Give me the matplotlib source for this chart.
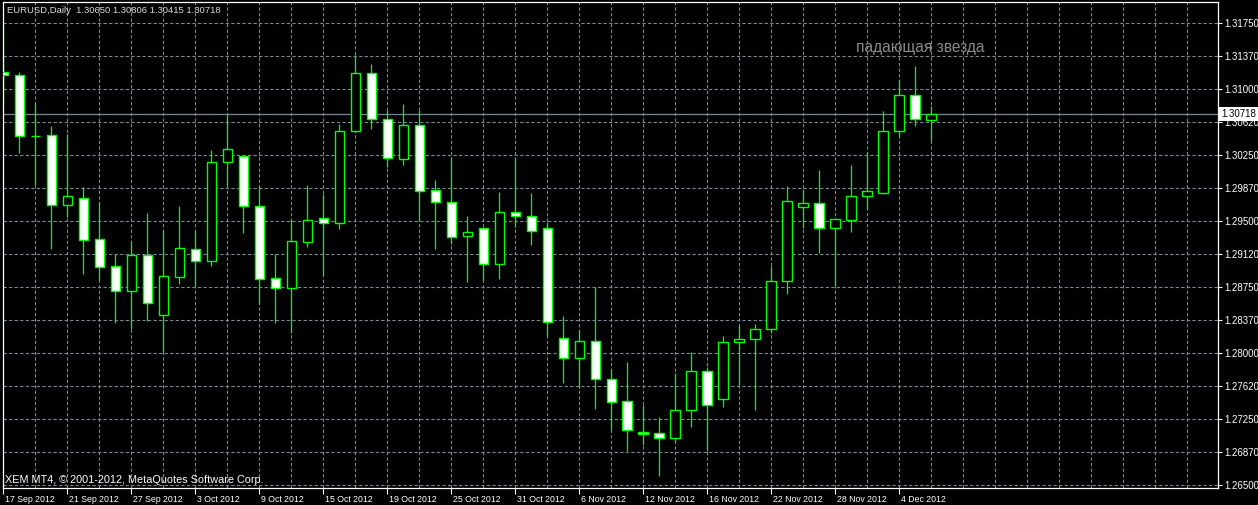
import matplotlib
matplotlib.use("Agg")
import numpy as np
import matplotlib.pyplot as plt
import matplotlib.transforms as mtransforms

plt.rcParams['font.family'] = ['Liberation Sans', 'DejaVu Sans']

# EURUSD daily bars, 17 Sep 2012 .. 6 Dec 2012
opens = [1.31196, 1.31159, 1.30472, 1.30476, 1.29680, 1.29760, 1.29294, 1.28987, 1.28703, 1.29112,
         1.28430, 1.28869, 1.29180, 1.29044, 1.30169, 1.30241, 1.29669, 1.28850, 1.28737, 1.29260,
         1.29533, 1.29476, 1.30522, 1.31181, 1.30658, 1.30204, 1.30590, 1.29851, 1.29715, 1.29328,
         1.29419, 1.29016, 1.29601, 1.29555, 1.29419, 1.28168, 1.27941, 1.28134, 1.27702, 1.27452,
         1.27099, 1.27088, 1.27031, 1.27349, 1.27793, 1.27475, 1.28123, 1.28157, 1.28270, 1.28816,
         1.29658, 1.29703, 1.29419, 1.29517, 1.29783, 1.29817, 1.30522, 1.30931, 1.30650]
highs = [1.31719, 1.31196, 1.30840, 1.30582, 1.30488, 1.29885, 1.29715, 1.29123, 1.29275, 1.29593,
         1.29396, 1.29673, 1.29385, 1.30309, 1.30707, 1.30253, 1.29900, 1.29123, 1.29525, 1.29911,
         1.29809, 1.30605, 1.31386, 1.31287, 1.30764, 1.30832, 1.30764, 1.29968, 1.30233, 1.29559,
         1.29422, 1.29828, 1.30215, 1.29817, 1.29494, 1.28422, 1.28263, 1.28748, 1.27816, 1.27895,
         1.27413, 1.27273, 1.27770, 1.28012, 1.27842, 1.28194, 1.28305, 1.28331, 1.28987, 1.29900,
         1.29862, 1.30082, 1.29536, 1.30139, 1.30283, 1.30753, 1.31102, 1.31264, 1.30806]
lows = [1.30821, 1.30279, 1.29911, 1.29184, 1.29551, 1.28903, 1.28831, 1.28346, 1.28277, 1.28368,
        1.28009, 1.28789, 1.28759, 1.28994, 1.29911, 1.29369, 1.28555, 1.28346, 1.28225, 1.29210,
        1.28891, 1.29414, 1.30518, 1.30552, 1.30119, 1.30142, 1.29502, 1.29187, 1.29240, 1.28812,
        1.28828, 1.28846, 1.29437, 1.29232, 1.28198, 1.27663, 1.27606, 1.27361, 1.27120, 1.26887,
        1.26955, 1.26606, 1.26986, 1.27163, 1.26887, 1.27390, 1.27641, 1.27356, 1.28225, 1.28675,
        1.29426, 1.29142, 1.28766, 1.29380, 1.29642, 1.29810, 1.30454, 1.30586, 1.30415]
closes = [1.31162, 1.30465, 1.30472, 1.29680, 1.29783, 1.29289, 1.28982, 1.28703, 1.29112, 1.28566,
          1.28873, 1.29192, 1.29044, 1.30169, 1.30317, 1.29669, 1.28839, 1.28737, 1.29271, 1.29510,
          1.29476, 1.30522, 1.31181, 1.30658, 1.30215, 1.30590, 1.29840, 1.29715, 1.29323, 1.29374,
          1.29016, 1.29601, 1.29555, 1.29383, 1.28350, 1.27941, 1.28134, 1.27702, 1.27449, 1.27122,
          1.27077, 1.27031, 1.27349, 1.27793, 1.27406, 1.28123, 1.28157, 1.28270, 1.28816, 1.29726,
          1.29703, 1.29419, 1.29521, 1.29783, 1.29840, 1.30522, 1.30931, 1.30658, 1.30718]

date_labels = ["17 Sep 2012", "21 Sep 2012", "27 Sep 2012", "3 Oct 2012", "9 Oct 2012",
               "15 Oct 2012", "19 Oct 2012", "25 Oct 2012", "31 Oct 2012", "6 Nov 2012",
               "12 Nov 2012", "16 Nov 2012", "22 Nov 2012", "28 Nov 2012", "4 Dec 2012"]
price_grid = [1.26500, 1.26875, 1.27250, 1.27625, 1.28000, 1.28375, 1.28750, 1.29125,
              1.29500, 1.29875, 1.30250, 1.30625, 1.31000, 1.31375, 1.31750]
price_labels = ["1.26500", "1.26870", "1.27250", "1.27620", "1.28000", "1.28370", "1.28750",
                "1.29120", "1.29500", "1.29870", "1.30250", "1.30620", "1.31000", "1.31370", "1.31750"]
note_text = "падающая звезда"
copyright_text = "XEM MT4, © 2001-2012, MetaQuotes Software Corp."

W, H = 1258, 505
GREEN = '#00ff00'
GRID = '#778899'

fig = plt.figure(figsize=(W / 100, H / 100), dpi=100, facecolor='black')
ax = fig.add_axes([3 / W, 17 / H, 1215 / W, 485.7 / H])
ax.set_facecolor('black')

n = len(opens)
x = np.arange(n)
o = np.array(opens)
c = np.array(closes)

ax.set_xlim(-0.02, 75.92)
ax.set_ylim(1.264659, 1.319888)

# dashed grid like MT4
for gx in np.arange(0, 76, 2):
    ax.axvline(gx, color=GRID, lw=0.8, ls=(0, (3, 2)), zorder=0.5)
for gy in price_grid:
    ax.axhline(gy, color=GRID, lw=0.8, ls=(0, (3, 2)), zorder=0.5)

# bid line
ax.axhline(closes[-1], color=GRID, lw=0.9, zorder=1)

# candles: wick first, body over it
ax.vlines(x, lows, highs, color=GREEN, lw=0.9, zorder=2)
bull = c >= o
body_bottom = np.minimum(o, c)
body_height = np.abs(c - o)
ax.bar(x[bull], body_height[bull], bottom=body_bottom[bull], width=0.6,
       color='black', edgecolor=GREEN, linewidth=1.0, zorder=3)
ax.bar(x[~bull], body_height[~bull], bottom=body_bottom[~bull], width=0.6,
       color='white', edgecolor=GREEN, linewidth=1.0, zorder=3)

for sp in ax.spines.values():
    sp.set_color('white')
    sp.set_linewidth(0.9)

ax.yaxis.tick_right()
ax.set_yticks(price_grid, price_labels)
ax.set_xticks(np.arange(0, 4 * len(date_labels), 4), date_labels)
ax.tick_params(axis='y', colors='white', length=3, pad=1.5, labelsize=7.0, width=0.8)
ax.tick_params(axis='x', colors='white', length=4, pad=1, labelsize=6.3, width=0.8)
shift = mtransforms.ScaledTranslation(1.5 / 100, 0, fig.dpi_scale_trans)
for lbl in ax.get_xticklabels():
    lbl.set_ha('left')
    lbl.set_transform(lbl.get_transform() + shift)

# price tag for the last close
ax.text(1.0025, closes[-1], f"{closes[-1]:.5f}", transform=ax.get_yaxis_transform(),
        ha='left', va='center', fontsize=7.0, color='black', clip_on=False, zorder=10,
        bbox=dict(boxstyle='square,pad=0.2', fc='white', ec='none'))

# header
header = f"EURUSD,Daily  {opens[-1]:.5f} {highs[-1]:.5f} {lows[-1]:.5f} {closes[-1]:.5f}"
fig.text(7 / W, 1 - 10.7 / H, header, color='#dcdcdc', fontsize=6.8, va='center', ha='left')

# text object on the chart
ax.text(53.3, 1.3148, note_text, color='#8a8a8a', fontsize=11.2, ha='left', va='center', zorder=4)

fig.text(5 / W, 1 - 480 / H, copyright_text, color='white', fontsize=7.8, va='center', ha='left')

fig.savefig('out.png', dpi=100, facecolor='black')
